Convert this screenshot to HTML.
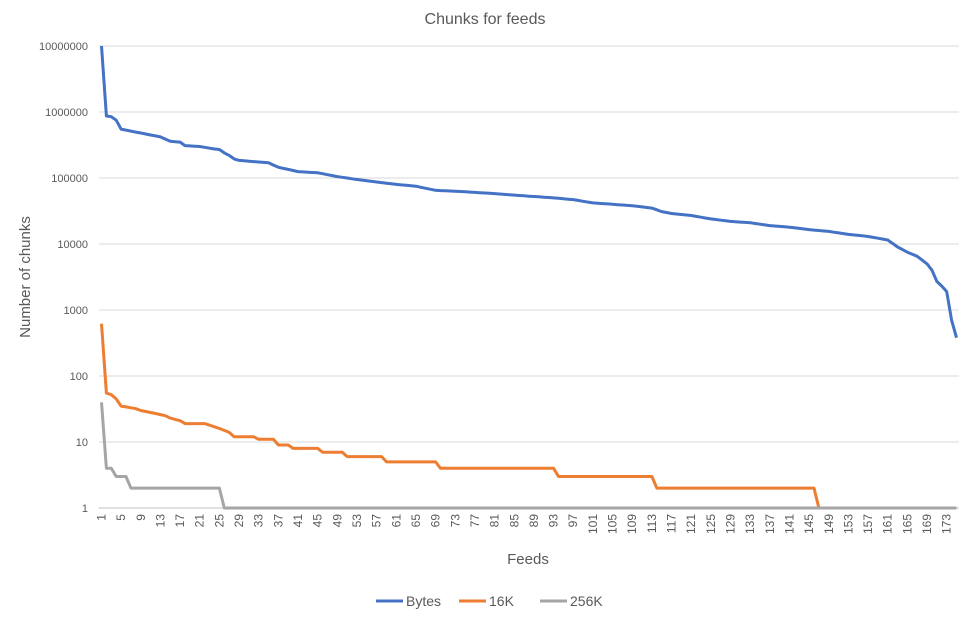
<!DOCTYPE html>
<html><head><meta charset="utf-8"><style>
html,body{margin:0;padding:0;background:#fff;width:970px;height:620px;overflow:hidden}
svg text{font-family:"Liberation Sans",sans-serif;fill:#595959}
</style></head><body>
<svg id="c" width="970" height="620" xmlns="http://www.w3.org/2000/svg">
<text x="485" y="24" font-size="16" text-anchor="middle">Chunks for feeds</text>
<text transform="translate(30,277) rotate(-90)" font-size="15" text-anchor="middle">Number of chunks</text>
<text x="528" y="564" font-size="15" text-anchor="middle">Feeds</text>
<g id="grid"></g><g id="xl"></g><g id="series"></g>
<line x1="376" y1="601" x2="403" y2="601" stroke="#4472C4" stroke-width="3"/>
<text x="406" y="606" font-size="14">Bytes</text>
<line x1="459" y1="601" x2="486" y2="601" stroke="#ED7D31" stroke-width="3"/>
<text x="489" y="606" font-size="14">16K</text>
<line x1="540" y1="601" x2="567" y2="601" stroke="#A5A5A5" stroke-width="3"/>
<text x="570" y="606" font-size="14">256K</text>
</svg>
<script>
var NS="http://www.w3.org/2000/svg";
function el(p,t,a,txt){var e=document.createElementNS(NS,t);for(var k in a)e.setAttribute(k,a[k]);if(txt!==undefined)e.textContent=txt;p.appendChild(e);return e;}
var N=175,x0=99,x1=959,dx=(x1-x0)/N;
function X(i){return x0+(i-0.5)*dx;}
function Y(v){return 508-66*Math.log10(v);}
var g=document.getElementById('grid');
var labs=["1","10","100","1000","10000","100000","1000000","10000000"];
for(var k=0;k<8;k++){var y=508-66*k;
 el(g,'line',{x1:x0,x2:x1,y1:y,y2:y,stroke:k==0?'#bfbfbf':'#d9d9d9','stroke-width':1});
 el(g,'text',{x:88,y:y+4,'font-size':11,'text-anchor':'end'},labs[k]);}
var xl=document.getElementById('xl');
for(var i=1;i<=173;i+=4){el(xl,'text',{transform:'translate('+(X(i)+4)+',514) rotate(-90)','font-size':12,'text-anchor':'end'},String(i));}
function interp(keys){var out=[];for(var j=0;j<keys.length-1;j++){var a=keys[j],b=keys[j+1];for(var i=a[0];i<b[0];i++){var t=(i-a[0])/(b[0]-a[0]);out[i]=Math.pow(10,Math.log10(a[1])+t*(Math.log10(b[1])-Math.log10(a[1])));}}var l=keys[keys.length-1];out[l[0]]=l[1];return out;}
var bytes=interp([[1,1e7],[2,870000],[3,850000],[4,750000],[5,550000],[9,480000],[13,420000],[15,360000],[17,350000],[18,310000],[21,300000],[24,275000],[25,270000],[26,240000],[27,220000],[28,195000],[29,185000],[33,175000],[35,170000],[37,145000],[39,135000],[41,125000],[45,120000],[49,105000],[53,95000],[57,87000],[61,80000],[65,75000],[69,65000],[73,63000],[81,58000],[85,55000],[93,50000],[97,47000],[101,42000],[109,38000],[113,35000],[115,31000],[117,29000],[121,27000],[125,24000],[129,22000],[133,21000],[137,19000],[141,18000],[145,16500],[149,15500],[153,14000],[157,13000],[161,11500],[163,9000],[165,7500],[167,6500],[169,5000],[170,4000],[171,2700],[172,2300],[173,1900],[174,700],[175,380]]);
function step(first,steps){var out=[];for(var i=1;i<=N;i++){var v=null;for(var s=0;s<steps.length;s++){if(i>=steps[s][0])v=steps[s][1];}out[i]=v;}for(var k in first)out[k]=first[k];return out;}
var k16=step({1:620,2:55,3:52,4:45,5:35,6:34,7:33,8:32,9:30,10:29,11:28,12:27,13:26,14:25,15:23,16:22,17:21,18:19,19:19,20:19,21:19,22:19,23:18,24:17,25:16,26:15,27:14},[[1,12],[28,12],[33,11],[37,9],[40,8],[46,7],[51,6],[59,5],[70,4],[94,3],[114,2],[147,1]]);
var k256=step({1:40,2:4,3:4,4:3,5:3,6:3},[[1,2],[26,1]]);
var sg=document.getElementById('series');
function line(d,c){var p=[];for(var i=1;i<=N;i++)p.push(X(i).toFixed(1)+','+Y(d[i]).toFixed(1));el(sg,'polyline',{points:p.join(' '),fill:'none',stroke:c,'stroke-width':3,'stroke-linejoin':'round'});}
line(bytes,'#4472C4');line(k16,'#ED7D31');line(k256,'#A5A5A5');
</script>
</body></html>
